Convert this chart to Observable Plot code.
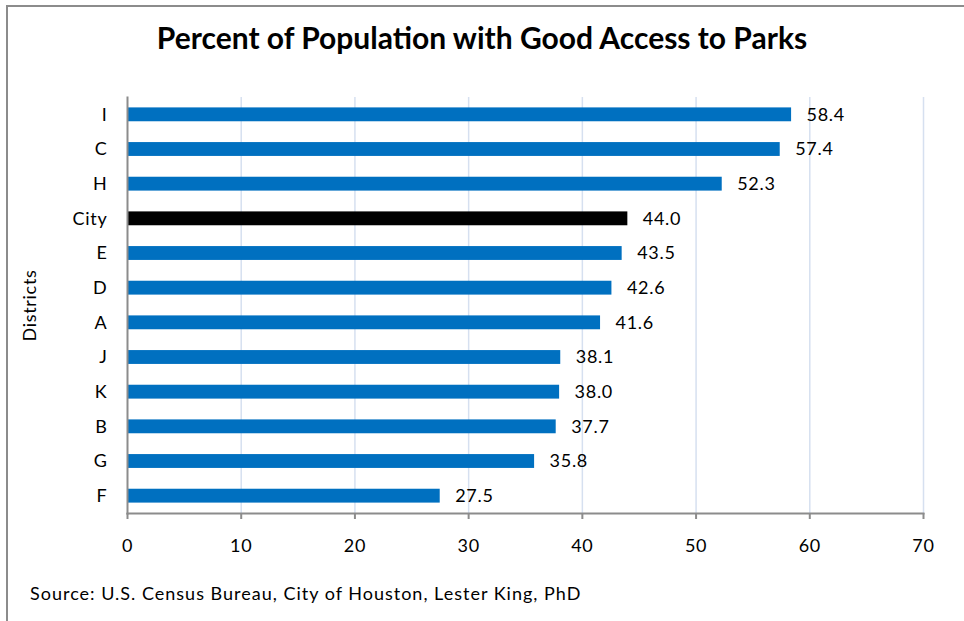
<!DOCTYPE html>
<html>
<head>
<meta charset="utf-8">
<script src="https://cdn.jsdelivr.net/npm/d3@7"></script>
<script src="https://cdn.jsdelivr.net/npm/@observablehq/plot@0.6"></script>
<style>
  body { margin: 0; background: #fff; }
  #chart { position: relative; width: 964px; height: 621px; overflow: hidden; font-family: Lato, "Open Sans", sans-serif; color: #000; }
  #frame { position: absolute; left: 6px; top: 5px; width: 970px; height: 640px; border-top: 2px solid #8c8c8c; border-left: 2px solid #8c8c8c; }
  #title { position: absolute; left: 0; top: 19px; width: 964px; text-align: center; font-weight: bold; font-size: 30px; line-height: 36px; }
  #plot { position: absolute; left: 0; top: 80px; }
  #source { position: absolute; left: 30px; top: 582px; font-size: 18px; line-height: 22px; letter-spacing: 1px; }
</style>
</head>
<body>
<div id="chart">
  <div id="frame"></div>
  <div id="title">Percent of Population with Good Access to Parks</div>
  <div id="plot"></div>
  <div id="source">Source: U.S. Census Bureau, City of Houston, Lester King, PhD</div>
</div>
<script>
// Districts listed top to bottom, with the share of residents near a park
const districts = ["I", "C", "H", "City", "E", "D", "A", "J", "K", "B", "G", "F"];
const percents = [58.4, 57.4, 52.3, 44.0, 43.5, 42.6, 41.6, 38.1, 38.0, 37.7, 35.8, 27.5];
const xTicks = [0, 10, 20, 30, 40, 50, 60, 70];

const rows = districts.map((district, i) => ({ district, value: percents[i] }));

const labelFont = { fontSize: 18, fill: "#000" };

const chart = Plot.plot({
  width: 964,
  height: 480,
  marginTop: 17,
  marginBottom: 47,
  marginLeft: 127,
  marginRight: 41,
  style: { fontFamily: "Lato, 'Open Sans', sans-serif", fontSize: "18px", color: "#000", background: "transparent", letterSpacing: "0.7px" },
  x: { domain: [0, 70], label: null },
  y: { domain: districts, paddingInner: 0.6, paddingOuter: 0.3, round: false, label: null },
  marks: [
    Plot.ruleX(xTicks.slice(1), { stroke: "#d6e0f0", strokeWidth: 1.5 }),
    Plot.barX(rows, {
      x: "value",
      y: "district",
      fill: d => d.district === "City" ? "#000000" : "#0070c0"
    }),
    Plot.frame({ anchor: "bottom", stroke: "#8c8c8c", strokeWidth: 2 }),
    Plot.frame({ anchor: "left", stroke: "#8c8c8c", strokeWidth: 2 }),
    Plot.text(rows, {
      x: "value",
      y: "district",
      text: d => d.value.toFixed(1),
      textAnchor: "start",
      dx: 15,
      ...labelFont
    }),
    Plot.axisX({
      ticks: xTicks,
      tickFormat: d => String(d),
      tickSize: 6,
      tickPadding: 20,
      stroke: "#8c8c8c",
      strokeWidth: 2,
      fontSize: 18,
      label: null
    }),
    Plot.axisY({ tickSize: 0, tickPadding: 20, fontSize: 18, label: null }),
    Plot.text(["Districts"], {
      frameAnchor: "left",
      textAnchor: "middle",
      rotate: -90,
      dx: -97,
      ...labelFont
    })
  ]
});

document.getElementById("plot").appendChild(chart);
</script>
</body>
</html>
